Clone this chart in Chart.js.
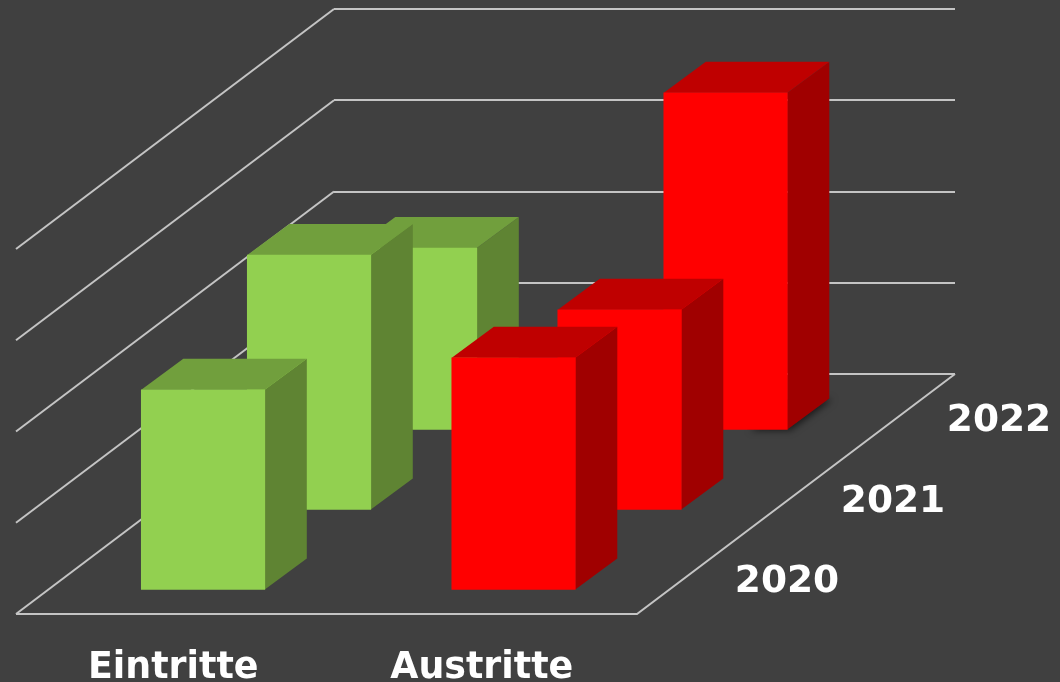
<!DOCTYPE html>
<html>
<head>
<meta charset="utf-8">
<style>
    html, body { margin: 0; padding: 0; background: #404040; overflow: hidden; }
    canvas { display: block; }
</style>
<script src="https://cdn.jsdelivr.net/npm/chart.js@4"></script>
</head>
<body>
<canvas id="chart" width="1060" height="682"></canvas>
<script>
const categories = ["Eintritte", "Austritte"];
const years = ["2020", "2021", "2022"];
const values2020 = [22, 25.5];
const values2021 = [28, 22];
const values2022 = [20, 37];
const yTicks = [0, 10, 20, 30, 40];

const frontColors = ["#92D050", "#FF0000"];
const topColors = ["#719F3D", "#BF0000"];
const sideColors = ["#5F8433", "#A00000"];
const gridColor = "#C4C4C4";

// how far the floor runs towards the viewer, in px
const floorDx = -318;
const floorDy = 240;
// front of each year's row, measured along the floor from the back wall
const rowDepth = [0.9, 0.5667, 0.2333];
// extrusion of a single bar
const barDx = 42;
const barDy = -31;

function rowOffset(i) {
    return { x: floorDx * rowDepth[i], y: floorDy * rowDepth[i] + 0.5 };
}

function poly(ctx, pts, color) {
    ctx.fillStyle = color;
    ctx.beginPath();
    pts.forEach((p, i) => i ? ctx.lineTo(p[0], p[1]) : ctx.moveTo(p[0], p[1]));
    ctx.closePath();
    ctx.fill();
}

const box3d = {
    id: "box3d",
    // side walls and floor, behind the bars
    beforeDatasetsDraw(chart) {
        const { ctx, chartArea: area, scales } = chart;
        ctx.save();
        ctx.strokeStyle = gridColor;
        ctx.lineWidth = 2;
        yTicks.forEach(t => {
            const y = scales.y.getPixelForValue(t);
            ctx.beginPath();
            ctx.moveTo(area.left, y);
            ctx.lineTo(area.left + floorDx, y + floorDy);
            ctx.stroke();
        });
        ctx.beginPath();
        ctx.moveTo(area.left + floorDx, area.bottom + floorDy);
        ctx.lineTo(area.right + floorDx, area.bottom + floorDy);
        ctx.lineTo(area.right, area.bottom);
        ctx.stroke();
        ctx.restore();
    },
    beforeDatasetDraw(chart, args) {
        const { ctx } = chart;
        const off = rowOffset(args.index);
        ctx.save();
        ctx.translate(off.x, off.y);
        args.meta.data.forEach((bar, i) => {
            const left = bar.x - bar.width / 2;
            const right = bar.x + bar.width / 2;
            // the tall back bar throws a small shadow on the floor
            if (args.index === 2 && i === 1) {
                ctx.save();
                ctx.shadowColor = "rgba(0,0,0,0.6)";
                ctx.shadowBlur = 7;
                ctx.shadowOffsetX = 3;
                ctx.shadowOffsetY = 1;
                poly(ctx, [[right - 40, bar.base], [right, bar.base], [right + barDx, bar.base + barDy], [right + barDx - 40, bar.base + barDy]], "#2a2a2a");
                ctx.restore();
            }
            poly(ctx, [[right, bar.y], [right + barDx, bar.y + barDy], [right + barDx, bar.base + barDy], [right, bar.base]], sideColors[i]);
            poly(ctx, [[left, bar.y], [left + barDx, bar.y + barDy], [right + barDx, bar.y + barDy], [right, bar.y]], topColors[i]);
        });
    },
    afterDatasetDraw(chart) {
        chart.ctx.restore();
    },
    afterDraw(chart) {
        const { ctx, chartArea: area, scales } = chart;
        ctx.save();
        ctx.fillStyle = "#FFFFFF";
        ctx.textBaseline = "alphabetic";
        ctx.font = "bold 36.4px 'DejaVu Sans'";
        ctx.textAlign = "center";
        categories.forEach((c, i) => {
            ctx.fillText(c, scales.x.getPixelForTick(i) + floorDx + (i ? 0 : 2), 678);
        });
        ctx.font = "bold 37.5px 'DejaVu Sans'";
        ctx.textAlign = "left";
        years.forEach((y, i) => {
            const off = rowOffset(i);
            ctx.fillText(y, area.right + off.x + 66, area.bottom + off.y + 1);
        });
        ctx.restore();
    }
};

const makeSet = (label, data) => ({
    label,
    data,
    backgroundColor: frontColors,
    borderWidth: 0,
    clip: false
});

new Chart(document.getElementById("chart"), {
    type: "bar",
    data: {
        labels: categories,
        datasets: [
            makeSet(years[0], values2020),
            makeSet(years[1], values2021),
            makeSet(years[2], values2022)
        ]
    },
    options: {
        responsive: false,
        animation: false,
        devicePixelRatio: 1,
        grouped: false,
        barThickness: 123.5,
        layout: { padding: { left: 334, right: 105, top: 9, bottom: 308 } },
        plugins: { legend: { display: false }, tooltip: { enabled: false } },
        scales: {
            x: { display: false },
            y: {
                min: yTicks[0],
                max: yTicks[yTicks.length - 1],
                ticks: { display: false, stepSize: 10 },
                border: { display: false },
                grid: { color: gridColor, lineWidth: 2, drawTicks: false, tickLength: 0 }
            }
        }
    },
    plugins: [box3d]
});
</script>
</body>
</html>
